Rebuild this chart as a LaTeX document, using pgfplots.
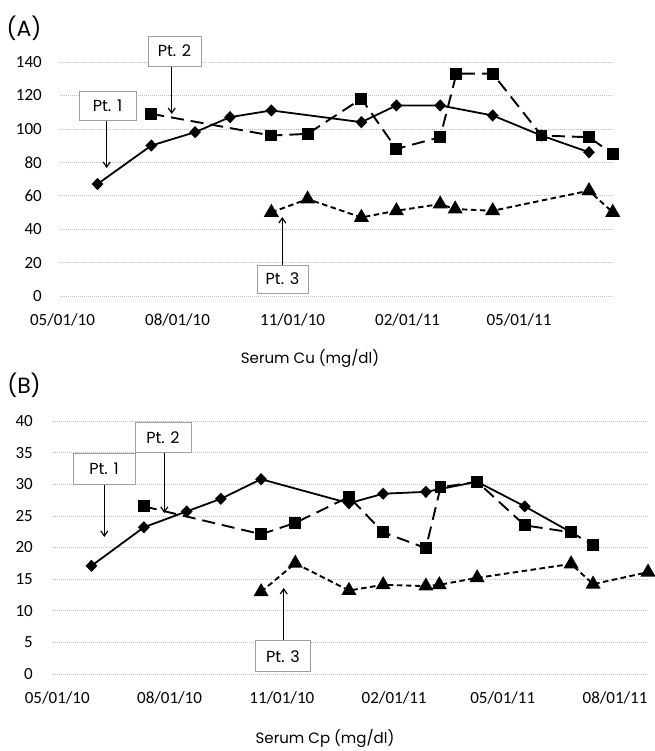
\documentclass[border=0pt]{standalone}
\usepackage{fontspec}
\setmainfont{Carlito}
\newfontfamily\gothic{Poppins}
\usepackage{pgfplots}
\pgfplotsset{compat=1.18}
\usetikzlibrary{arrows.meta}
\begin{document}
\begin{tikzpicture}
\path (0pt,0pt) rectangle (654pt,751pt);
\pgfplotsset{
 common/.style={
  scale only axis, anchor=south west, clip=false,
  axis line style={draw=none}, tick style={draw=none},
  ymajorgrids, grid style={gray!50, line width=0.6pt, dash pattern=on 1.2pt off 0.8pt},
  tick label style={font=\fontsize{17}{19}\selectfont},
  /pgf/number format/assume math mode=true,
  xticklabel style={anchor=center, inner sep=0pt, yshift=-24pt},
 },
 pt1/.style={black, line width=1.8pt, mark=diamond*, mark size=4.8pt, mark options={solid, xscale=1.3}},
 pt2/.style={black, line width=1.9pt, dash pattern=on 13pt off 7pt, mark=square*, mark size=5pt, mark options={solid}},
 pt3/.style={black, line width=1.9pt, dash pattern=on 5.5pt off 3.5pt, mark=triangle*, mark size=6.8pt, mark options={solid}},
}
% ---------- (A) ----------
\begin{axis}[common, at={(60pt,455pt)}, width=554pt, height=234pt,
  xmin=-2, xmax=441, ymin=0, ymax=140, ytick={0,20,...,140},
  xtick={0,92,184,276,365},
  xticklabels={05/01/10,08/01/10,11/01/10,02/01/11,05/01/11},
  yticklabel style={anchor=east, inner sep=0pt, xshift=-18pt},
 ]
\addplot[pt3] coordinates {(167,50)(196,58)(239,47)(267,51)(302,55)(314,52)(344,51)(421,63)(440,50)};
\addplot[pt2] coordinates {(71,109)(167,96)(196,97)(239,118)(267,88)(302,95)(315,133)(344,133)(383,96)(421,95)(440,85)};
\addplot[pt1] coordinates {(28,67)(71,90)(106,98)(134,107)(167,111)(239,104)(267,114)(302,114)(344,108)(383,96)(421,86)};
\end{axis}
% ---------- (B) ----------
\begin{axis}[common, at={(53pt,77pt)}, width=595pt, height=253pt,
  xmin=-3.5, xmax=484, ymin=0, ymax=40, ytick={0,5,...,40},
  xtick={0,92,184,276,365,457},
  xticklabels={05/01/10,08/01/10,11/01/10,02/01/11,05/01/11,08/01/11},
  yticklabel style={anchor=east, inner sep=0pt, xshift=-20pt},
 ]
\addplot[pt3] coordinates {(167,13.0)(195,17.5)(239,13.2)(267,14.1)(302,13.9)(313,14.1)(344,15.2)(421,17.4)(439,14.2)(484,16.1)};
\addplot[pt2] coordinates {(71,26.5)(167,22.1)(195,23.9)(239,28.0)(267,22.4)(302,19.9)(314,29.5)(344,30.4)(383,23.5)(421,22.4)(439,20.4)};
\addplot[pt1] coordinates {(28,17.1)(71,23.2)(106,25.7)(134,27.7)(167,30.8)(239,27.0)(267,28.5)(302,28.8)(344,30.4)(383,26.5)(421,22.4)};
\end{axis}
% ---------- annotations ----------
\begin{scope}[x=1pt,y=1pt]
\tikzset{ptbox/.style={draw=gray!75, line width=0.8pt, fill=white, inner sep=0pt,
   font=\gothic\fontsize{16}{18}\selectfont},
   ptarr/.style={line width=1.2pt, -{Straight Barb[length=5pt,width=7pt]}}}
\node[font=\gothic\fontsize{22}{25}\selectfont] at (24,723) {(A)};
\node[font=\gothic\fontsize{22}{25}\selectfont] at (24,366) {(B)};
\node[font=\gothic\fontsize{15}{17}\selectfont] at (310,393) {Serum Cu (mg/dl)};
\node[font=\gothic\fontsize{15}{17}\selectfont] at (325,13) {Serum Cp (mg/dl)};
% top
\draw[ptarr] (106.7,631) -- (106.7,583);
\node[ptbox, minimum width=57pt, minimum height=29pt] at (107.5,645.5) {Pt. 1};
\draw[ptarr] (171.7,685) -- (171.7,637);
\node[ptbox, minimum width=53pt, minimum height=30pt] at (174.5,700) {Pt. 2};
\draw[ptarr] (282.3,486) -- (282.3,534);
\node[ptbox, minimum width=51pt, minimum height=28pt] at (282.5,472) {Pt. 3};
% bottom
\draw[ptarr] (104.3,267) -- (104.3,214);
\node[ptbox, minimum width=62pt, minimum height=31pt] at (104,282.5) {Pt. 1};
\draw[ptarr] (164.3,298) -- (164.3,238);
\node[ptbox, minimum width=56pt, minimum height=30pt] at (163,313.5) {Pt. 2};
\draw[ptarr] (283.7,110) -- (283.7,163);
\node[ptbox, minimum width=55pt, minimum height=31pt] at (283,94.8) {Pt. 3};
\end{scope}
\end{tikzpicture}
\end{document}
